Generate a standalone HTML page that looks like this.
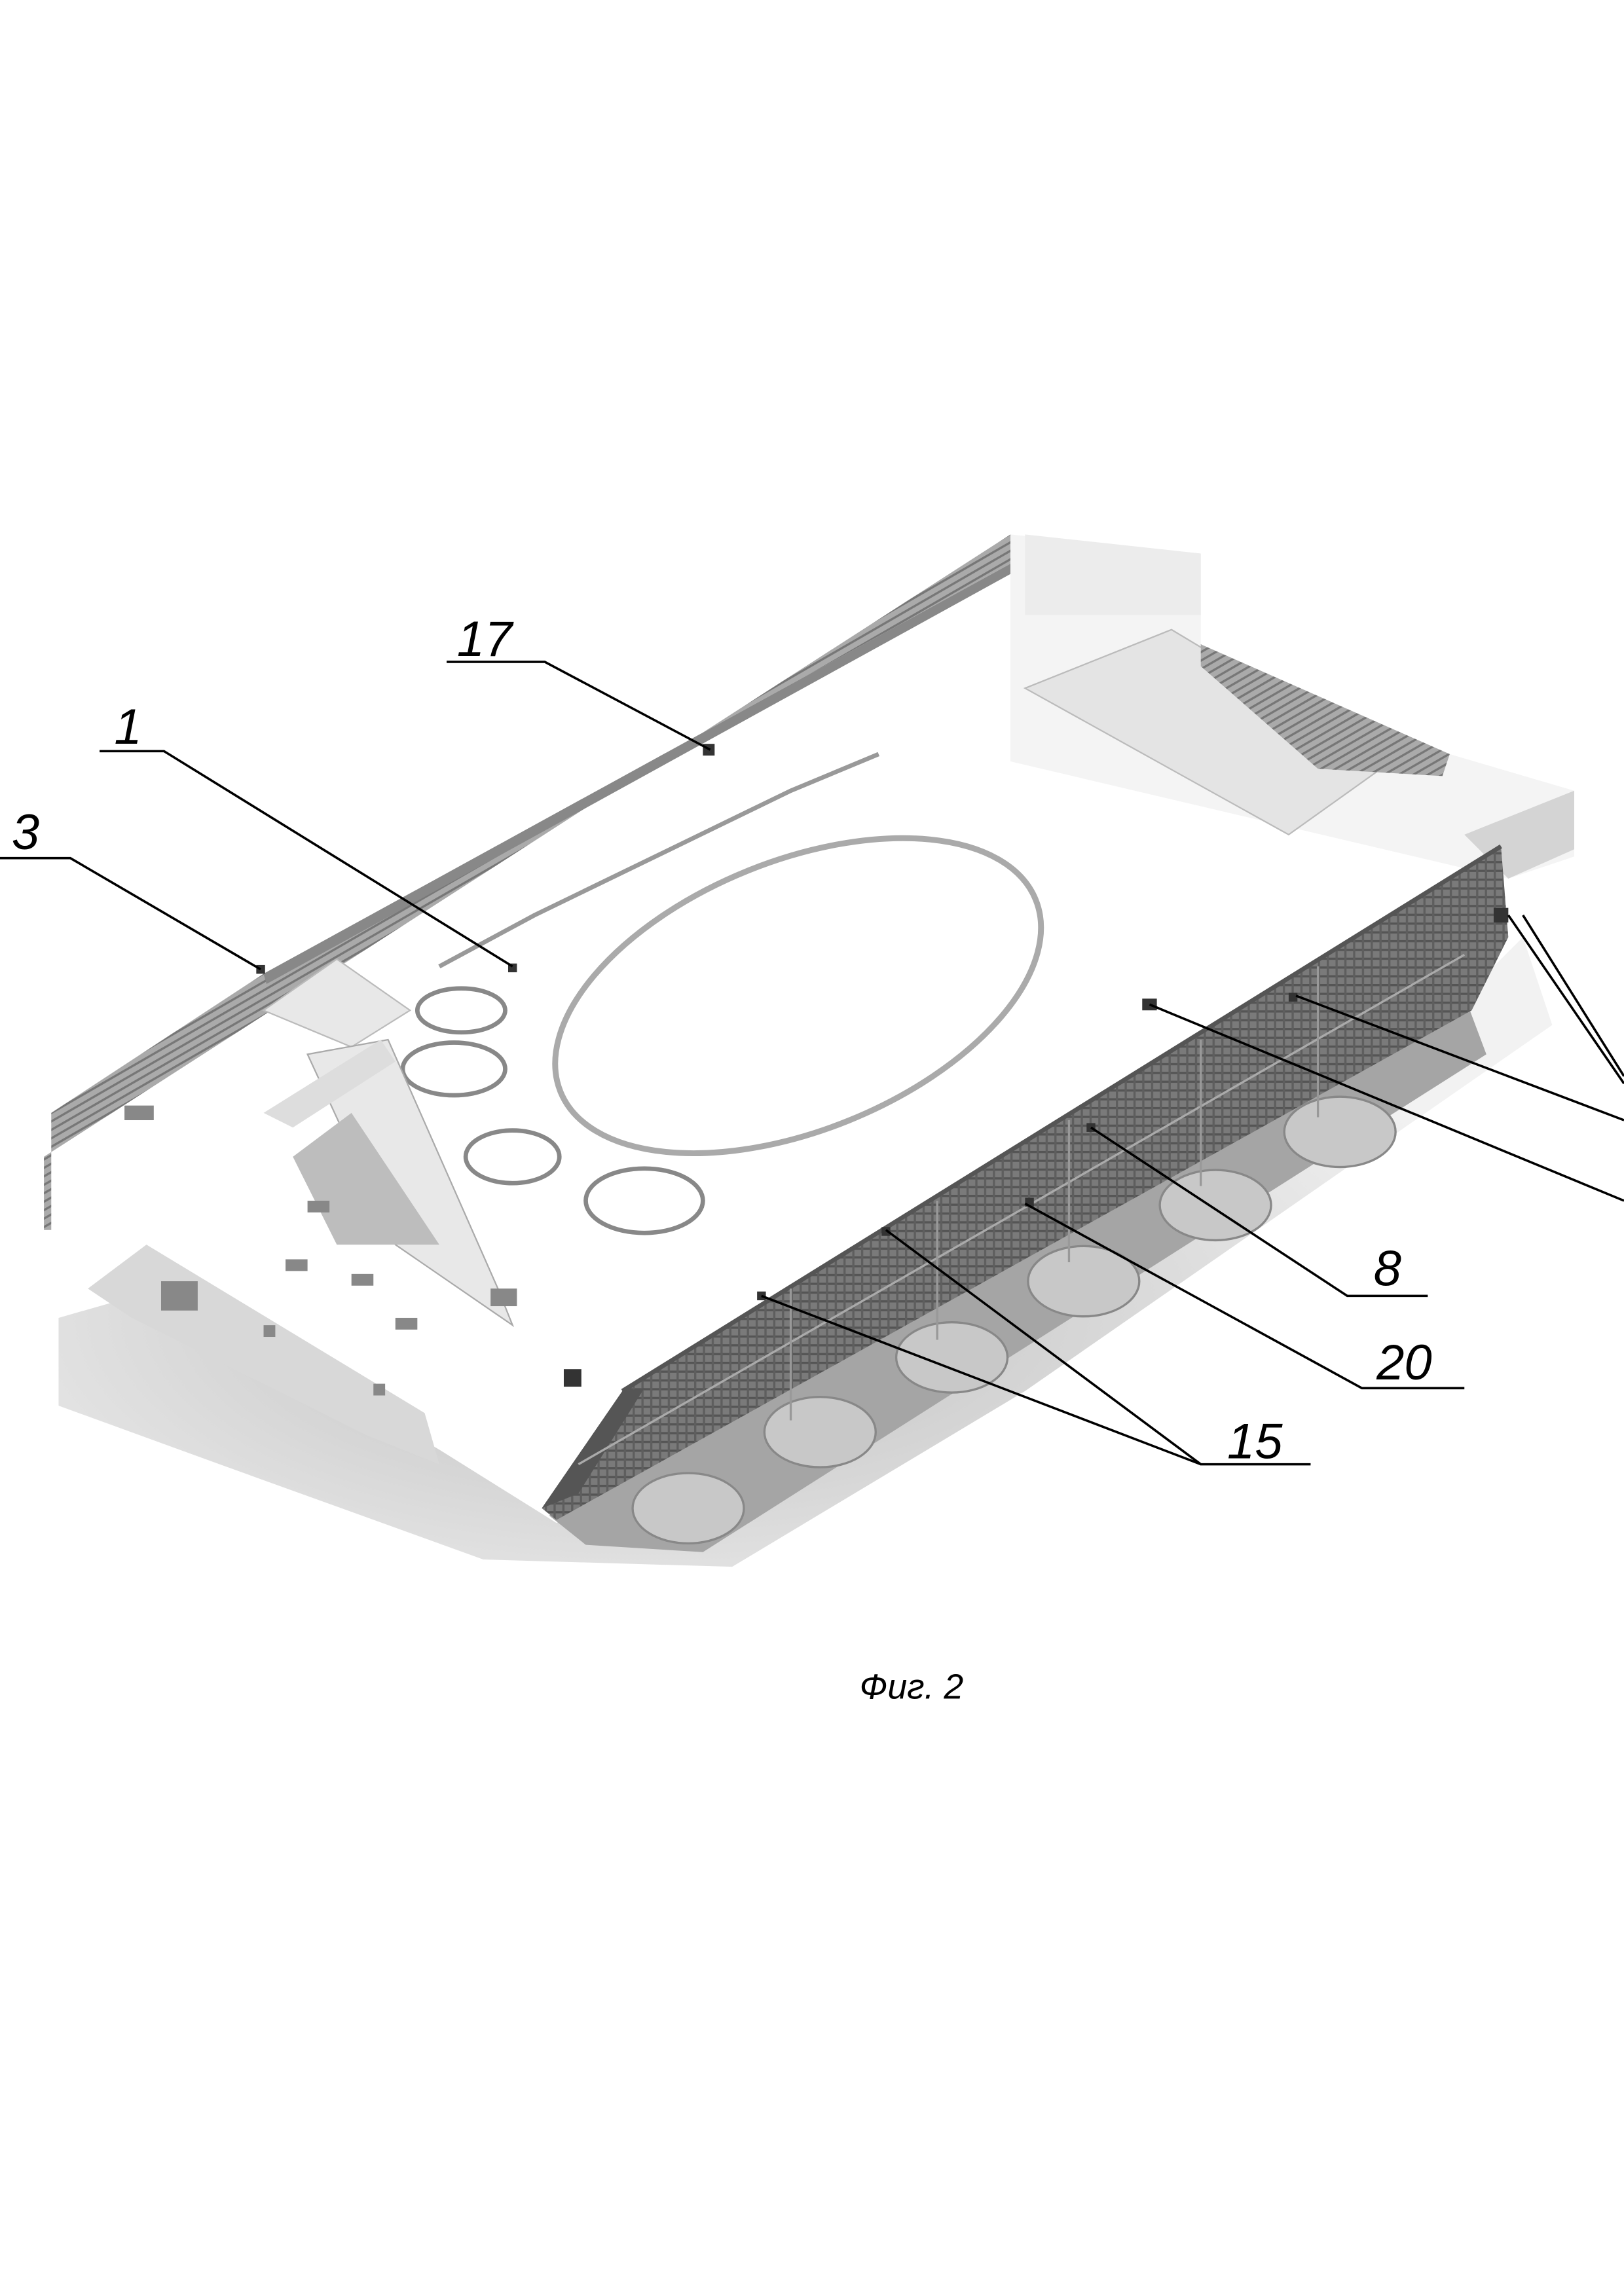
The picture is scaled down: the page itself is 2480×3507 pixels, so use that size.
<!DOCTYPE html>
<html><head><meta charset="utf-8"><style>
html,body{margin:0;padding:0;background:#fff;}
svg{display:block;}
text{font-family:"Liberation Sans",sans-serif;font-style:italic;fill:#000;}
</style></head><body>
<svg width="2480" height="3507" viewBox="0 0 1109 1568" preserveAspectRatio="none" xmlns="http://www.w3.org/2000/svg">
<defs>
<pattern id="h" width="6" height="6" patternUnits="userSpaceOnUse">
<rect width="6" height="6" fill="#7a7a7a"/>
<rect width="6" height="1.5" fill="#555"/>
<rect width="1.5" height="6" fill="#5e5e5e"/>
</pattern>
<pattern id="h2" width="5" height="5" patternUnits="userSpaceOnUse" patternTransform="rotate(-30)">
<rect width="5" height="5" fill="#aaa"/>
<rect width="5" height="1.5" fill="#777"/>
</pattern>
<radialGradient id="sh" cx="0.4" cy="0.6" r="0.6">
<stop offset="0" stop-color="#bdbdbd"/><stop offset="1" stop-color="#f2f2f2"/>
</radialGradient>
</defs>
<path d="M40,900 L110,880 L300,990 L380,1040 L1000,680 L1040,640 L1060,700 L700,950 L500,1070 L330,1065 L150,1000 L40,960 Z" fill="url(#sh)"/>
<path d="M60,880 L100,850 L290,965 L300,1000 L250,980 L90,900 Z" fill="#d8d8d8"/>
<!-- tracks / wheels -->
<path d="M375,1035 L1000,680 L1015,720 L480,1060 L400,1055 Z" fill="#a5a5a5"/>
<g fill="#c8c8c8" stroke="#888" stroke-width="1.5">
<ellipse cx="470" cy="1030" rx="38" ry="24"/><ellipse cx="560" cy="978" rx="38" ry="24"/>
<ellipse cx="650" cy="927" rx="38" ry="24"/><ellipse cx="740" cy="875" rx="38" ry="24"/>
<ellipse cx="830" cy="823" rx="38" ry="24"/><ellipse cx="915" cy="773" rx="38" ry="24"/>
</g>
<path d="M690,365 L820,378 L820,440 L990,515 L1075,540 L1075,585 L1030,600 L690,520 Z" fill="#f4f4f4"/>
<path d="M700,470 L800,430 L950,520 L880,570 Z" fill="#e4e4e4" stroke="#bbb"/>
<path d="M820,440 L990,515 L985,530 L900,525 L820,455 Z" fill="url(#h2)"/>
<path d="M700,365 L820,378 L820,420 L700,420 Z" fill="#ececec"/>
<path d="M1000,570 L1075,540 L1075,580 L1030,600 Z" fill="#d4d4d4"/>
<path d="M30,790 L690,365 L690,385 L180,665 L35,760 L35,840 L30,840 Z" fill="url(#h2)"/>
<path d="M180,665 L690,385 L690,392 L182,672 Z" fill="#888"/>
<path d="M180,690 L230,655 L280,690 L240,715 Z" fill="#e8e8e8" stroke="#bbb"/>
<path d="M300,660 L365,625 L540,540 L600,515" fill="none" stroke="#999" stroke-width="3"/>
<ellipse cx="545" cy="680" rx="175" ry="92" transform="rotate(-22 545 680)" fill="none" stroke="#aaa" stroke-width="4"/>
<g fill="none" stroke="#888" stroke-width="3">
<ellipse cx="310" cy="730" rx="35" ry="18"/><ellipse cx="350" cy="790" rx="32" ry="18"/>
<ellipse cx="440" cy="820" rx="40" ry="22"/><ellipse cx="315" cy="690" rx="30" ry="15"/>
</g>
<path d="M210,720 L270,850 L350,905 L340,880 L265,710 Z" fill="#e8e8e8" stroke="#aaa"/>
<path d="M260,710 L180,760 L200,770 L270,725 Z" fill="#ddd"/>
<path d="M240,760 L300,850 L230,850 L200,790 Z" fill="#bdbdbd"/>
<g fill="#888"><rect x="210" y="820" width="15" height="8"/><rect x="195" y="860" width="15" height="8"/><rect x="270" y="900" width="15" height="8"/><rect x="240" y="870" width="15" height="8"/><rect x="335" y="880" width="18" height="12"/><rect x="110" y="875" width="25" height="20"/><rect x="180" y="905" width="8" height="8"/><rect x="255" y="945" width="8" height="8"/><rect x="85" y="755" width="20" height="10"/></g>
<!-- side skirt -->
<path d="M370,1030 L425,950 L1025,578 L1030,640 L1005,690 L380,1038 Z" fill="url(#h)"/>
<path d="M370,1030 L425,950 L440,948 L395,1020 Z" fill="#555"/>
<path d="M425,950 L1025,578" stroke="#555" stroke-width="3"/>
<path d="M395,1000 L1000,652" stroke="#aaa" stroke-width="1.5"/>
<g stroke="#999" stroke-width="1.5"><path d="M540,880 L540,970"/><path d="M640,820 L640,915"/><path d="M730,765 L730,862"/><path d="M820,710 L820,810"/><path d="M900,660 L900,763"/></g>
<g fill="#333"><rect x="480" y="508" width="8" height="8"/><rect x="347" y="658" width="6" height="6"/><rect x="175" y="659" width="6" height="6"/><rect x="780" y="682" width="10" height="8"/><rect x="1020" y="620" width="10" height="10"/><rect x="742" y="767" width="6" height="6"/><rect x="700" y="818" width="6" height="6"/><rect x="602" y="838" width="6" height="6"/><rect x="517" y="882" width="6" height="6"/><rect x="880" y="678" width="6" height="6"/><rect x="385" y="935" width="12" height="12"/></g>
<g stroke="#000" stroke-width="1.6" fill="none">
<path d="M305,452 L372,452 L485,512"/>
<path d="M68,513 L112,513 L350,660"/>
<path d="M0,586 L48,586 L178,662"/>
<path d="M1030,625 L1109,740"/>
<path d="M1040,625 L1109,735"/>
<path d="M785,686 L1109,820"/>
<path d="M885,680 L1109,765"/>
<path d="M745,770 L920,885 L975,885"/>
<path d="M700,822 L930,948 L1000,948"/>
<path d="M605,840 L820,1000 L895,1000"/>
<path d="M520,885 L820,1000"/>
</g>
<g font-size="34">
<text x="312" y="448">17</text>
<text x="78" y="508">1</text>
<text x="8" y="580">3</text>
<text x="938" y="878">8</text>
<text x="940" y="942">20</text>
<text x="838" y="996">15</text>
</g>
<text x="587" y="1160" font-size="24">Фиг. 2</text>
</svg>
</body></html>
